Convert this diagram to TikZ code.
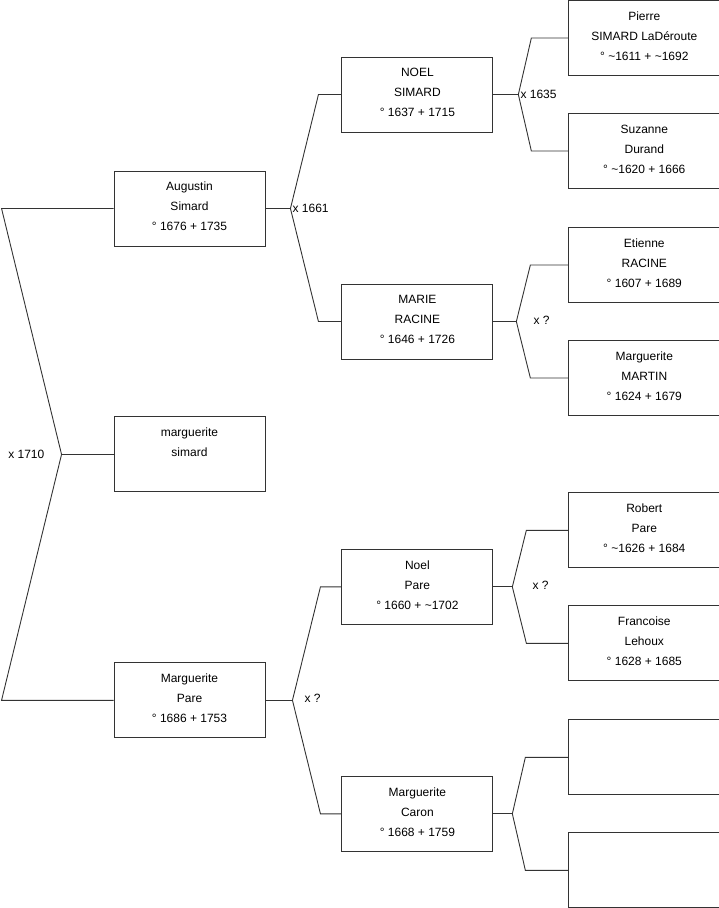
\documentclass[tikz,border=0pt]{standalone}
\usepackage{fontspec}
\setmainfont{Liberation Sans}
\usetikzlibrary{positioning}

\begin{document}
\begin{tikzpicture}[
  x=1pt, y=-1pt,
  person/.style={
    draw=black!80,
    fill=white,
    line width=0.9pt,
    minimum width=151pt,
    minimum height=75pt,
    inner sep=0pt,
    text depth=4pt,
    align=center,
    font=\fontsize{12}{20}\selectfont
  },
  link/.style={draw=black!80, line width=0.9pt},
  union/.style={font=\fontsize{12}{14}\selectfont, inner sep=1pt}
]
\useasboundingbox (0,0) rectangle (719,908);

% first generation
\node[person] (augustin) at (189.5,208.5) {Augustin\\Simard\\° 1676 + 1735};
\node[person, below=170pt of augustin] (marguerite) {marguerite\\simard\\\phantom{0}};
\node[person, below=170pt of marguerite] (pare) {Marguerite\\Pare\\° 1686 + 1753};

% parents
\node[person, right=76pt of augustin, yshift=114pt] (noel) {NOEL\\SIMARD\\° 1637 + 1715};
\node[person, right=76pt of augustin, yshift=-113pt] (marie) {MARIE\\RACINE\\° 1646 + 1726};
\node[person, right=76pt of pare, yshift=113.5pt] (noelpare) {Noel\\Pare\\° 1660 + \textasciitilde1702};
\node[person, right=76pt of pare, yshift=-113.5pt] (caron) {Marguerite\\Caron\\° 1668 + 1759};

% grandparents
\node[person, right=75pt of noel, yshift=56.5pt] (pierre) {Pierre\\SIMARD LaDéroute\\° \textasciitilde1611 + \textasciitilde1692};
\node[person, right=75pt of noel, yshift=-56.5pt] (suzanne) {Suzanne\\Durand\\° \textasciitilde1620 + 1666};
\node[person, right=75pt of marie, yshift=56.5pt] (etienne) {Etienne\\RACINE\\° 1607 + 1689};
\node[person, right=75pt of marie, yshift=-56.5pt] (martin) {Marguerite\\MARTIN\\° 1624 + 1679};
\node[person, right=75pt of noelpare, yshift=56.5pt] (robert) {Robert\\Pare\\° \textasciitilde1626 + 1684};
\node[person, right=75pt of noelpare, yshift=-56.5pt] (lehoux) {Francoise\\Lehoux\\° 1628 + 1685};
\node[person, right=75pt of caron, yshift=56.5pt] (emptya) {};
\node[person, right=75pt of caron, yshift=-56.5pt] (emptyb) {};

% forks
\coordinate[left=52pt of marguerite] (rootfork);
\coordinate[right=25pt of augustin] (augfork);
\coordinate[right=27pt of pare] (parefork);
\coordinate[right=25pt of noel] (noelfork);
\coordinate[right=23pt of marie] (mariefork);
\coordinate[right=19pt of noelpare] (noelparefork);
\coordinate[right=19pt of caron] (caronfork);

\draw[link] (augustin.west) -- ([xshift=-112pt]augustin.west) -- (rootfork)
  -- ([xshift=-112pt]pare.west) -- (pare.west);
\draw[link] (rootfork) -- (marguerite.west);
\node[union, anchor=east] at ([xshift=-16pt]rootfork) {x 1710};

\draw[link] (augustin.east) -- (augfork);
\draw[link] (noel.west) -- ([xshift=-23pt]noel.west) -- (augfork)
  -- ([xshift=-23pt]marie.west) -- (marie.west);
\node[union, anchor=west] at ([xshift=1pt]augfork) {x 1661};

\draw[link] (pare.east) -- (parefork);
\draw[link] (noelpare.west) -- ([xshift=-21pt]noelpare.west) -- (parefork)
  -- ([xshift=-21pt]caron.west) -- (caron.west);
\node[union, anchor=west] at ([xshift=11pt,yshift=2pt]parefork) {x ?};

\draw[link] (noel.east) -- (noelfork);
\draw[link] (pierre.west) -- ([xshift=-37pt]pierre.west) -- (noelfork)
  -- ([xshift=-37pt]suzanne.west) -- (suzanne.west);
\node[union, anchor=west] at ([xshift=1pt]noelfork) {x 1635};

\draw[link] (marie.east) -- (mariefork);
\draw[link] (etienne.west) -- ([xshift=-38pt]etienne.west) -- (mariefork)
  -- ([xshift=-38pt]martin.west) -- (martin.west);
\node[union, anchor=west] at ([xshift=16pt,yshift=1pt]mariefork) {x ?};

\draw[link] (noelpare.east) -- (noelparefork);
\draw[link] (robert.west) -- ([xshift=-42pt]robert.west) -- (noelparefork)
  -- ([xshift=-42pt]lehoux.west) -- (lehoux.west);
\node[union, anchor=west] at ([xshift=19pt,yshift=1pt]noelparefork) {x ?};

\draw[link] (caron.east) -- (caronfork);
\draw[link] (emptya.west) -- ([xshift=-43pt]emptya.west) -- (caronfork)
  -- ([xshift=-43pt]emptyb.west) -- (emptyb.west);

\end{tikzpicture}
\end{document}
